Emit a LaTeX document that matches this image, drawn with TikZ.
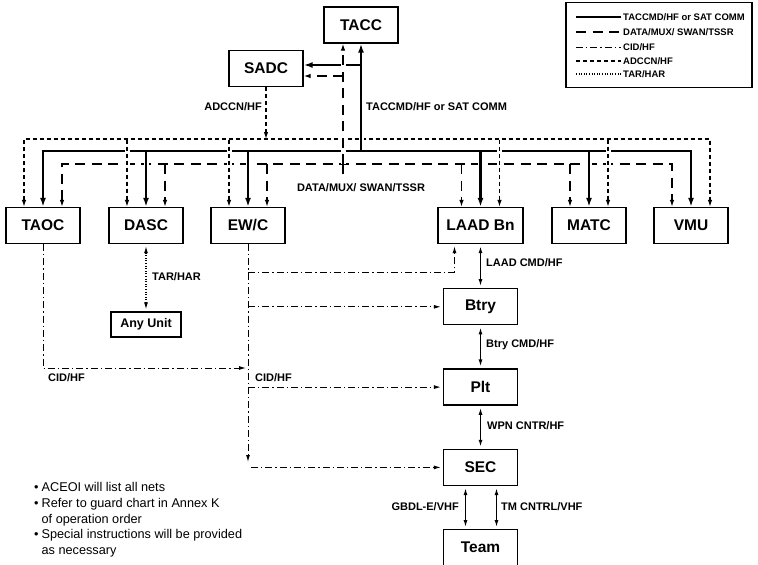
\documentclass[tikz,border=0pt]{standalone}
\usepackage{fontspec}
\setmainfont{Liberation Sans}
\usetikzlibrary{arrows.meta, positioning}

\begin{document}
\begin{tikzpicture}[x=1pt, y=-1pt,
block/.style={rectangle, draw, line width=1.3pt, minimum width=74pt,
minimum height=36pt, inner sep=2pt, font=\fontsize{15.5}{18}\selectfont\bfseries},
smallblock/.style={block, minimum width=70pt, minimum height=25pt,
font=\fontsize{12.5}{15}\selectfont\bfseries},
lbl/.style={inner sep=0pt, font=\fontsize{11}{13}\selectfont\bfseries},
lgd/.style={inner sep=2pt, font=\fontsize{9.5}{11}\selectfont\bfseries},
halo/.style={preaction={draw=white, line width=5pt, solid, -}},
cmdline/.style={line width=2.6pt, >={Latex[length=9pt,width=6pt]}},
dataline/.style={line width=1.2pt, dash pattern=on 10pt off 6.5pt, >={Latex[length=7pt,width=4.5pt]}},
adccnline/.style={line width=1.2pt, dash pattern=on 4pt off 3pt, >={Latex[length=7pt,width=4.5pt]}},
cidline/.style={line width=1pt, dash pattern=on 7pt off 3pt on 1.3pt off 3pt, >={Latex[length=7pt,width=4pt]}},
tarline/.style={line width=1.1pt, dash pattern=on 1pt off 1.6pt, >={Latex[length=7pt,width=4pt]}, shorten >=2pt, shorten <=2pt},
link/.style={line width=1.3pt, <->, >={Latex[length=7pt,width=4pt]}, shorten >=2pt, shorten <=2pt}]

\useasboundingbox (0,0) rectangle (758,565);

% command level
\node[block] (tacc) at (361,25) {TACC};
\node[block] (sadc) at (266,68.5) {SADC};
\node[block] (taoc) at (43,225.5) {TAOC};
\node[block] (dasc) at (146,225.5) {DASC};
\node[block] (ewc) at (248,225.5) {EW/C};
\node[block, minimum width=85pt] (laad) at (480.5,225.5) {LAAD Bn};
\node[block] (matc) at (589,225.5) {MATC};
\node[block] (vmu) at (691,225.5) {VMU};
\node[smallblock] (anyunit) at (146,324.5) {Any Unit};

% LAAD chain
\node[block, below=44pt of laad] (btry) {Btry};
\node[block, below=43pt of btry] (plt) {Plt};
\node[block, below=43pt of plt] (sec) {SEC};
\node[block, below=43pt of sec] (team) {Team};

\coordinate (cmdhub) at (361,151);
\coordinate (datahub) at (343,164);
\coordinate (datatail) at (343,178);
\coordinate (adccn) at (267,139);
\coordinate (adccnlow) at (267,139.7);
\coordinate (sadccmd) at ([yshift=3.5pt]sadc.east);
\coordinate (sadcdata) at ([yshift=-7.5pt]sadc.east);

% nets: bus lines
\draw[adccnline,<->] ([xshift=-19pt]taoc.north) |- (adccn) -| ([xshift=19pt]vmu.north);
\draw[dataline,<->] ([xshift=19pt]taoc.north) |- (datahub) -| ([xshift=-19pt]vmu.north);

\draw[cmdline,halo,->] (dasc.north |- cmdhub) -- (dasc.north);
\draw[cmdline,halo,->] (ewc.north |- cmdhub) -- (ewc.north);
\draw[cmdline,halo,->] (laad.north |- cmdhub) -- (laad.north);
\draw[cmdline,halo,->] (matc.north |- cmdhub) -- (matc.north);
\draw[cmdline,halo,->] (cmdhub) -- (tacc.south);
\draw[cmdline,<->] (taoc.north) |- (cmdhub) -| (vmu.north);
\draw[cmdline,->] (cmdhub |- sadccmd) -- (sadccmd);

\draw[dataline,halo,->] (datahub) -- (datahub |- tacc.south);
\draw[dataline] (datahub) -- (datatail);
\draw[dataline,->] (datahub |- sadcdata) -- (sadcdata);
\draw[dataline,->] ([xshift=19pt]dasc.north |- datahub) -- ([xshift=19pt]dasc.north);
\draw[dataline,->] ([xshift=19pt]ewc.north |- datahub) -- ([xshift=19pt]ewc.north);
\draw[dataline,->] ([xshift=-19pt]laad.north |- datahub) -- ([xshift=-19pt]laad.north);
\draw[dataline,->] ([xshift=-19pt]matc.north |- datahub) -- ([xshift=-19pt]matc.north);

\draw[adccnline,halo,->] ([xshift=-19pt]dasc.north |- adccnlow) -- ([xshift=-19pt]dasc.north);
\draw[adccnline,halo,->] ([xshift=-19pt]ewc.north |- adccnlow) -- ([xshift=-19pt]ewc.north);
\draw[adccnline,halo,->] ([xshift=19pt]laad.north |- adccnlow) -- ([xshift=19pt]laad.north);
\draw[adccnline,halo,->] ([xshift=19pt]matc.north |- adccnlow) -- ([xshift=19pt]matc.north);
\draw[adccnline,->] (sadc.south) -- (sadc.south |- adccn);

\node[lbl, anchor=east] (adccnlbl) at (262,107) {ADCCN/HF};
\node[lbl, anchor=west] (cmdlbl) at (366,107) {TACCMD/HF or SAT COMM};
\node[lbl] (datalbl) at (361,188) {DATA/MUX/ SWAN/TSSR};

% TAR/HAR
\draw[tarline,<->] (dasc.south) -- (anyunit.north);
\node[lbl, anchor=west] (tarlbl) at (152,277) {TAR/HAR};

% CID/HF
\coordinate (cidin) at (246,368);
\coordinate (cidend) at (248,462);
\coordinate (cidlaad) at (248,272);
\draw[cidline,->] (taoc.south) |- (cidin);
\draw[cidline,->] (ewc.south) -- (cidend);
\draw[cidline,->,shorten >=2pt] (cidlaad) -| ([xshift=-26pt]laad.south);
\draw[cidline,->,shorten >=2pt] (ewc.south |- btry.west) -- (btry.west);
\draw[cidline,->,shorten >=2pt] (ewc.south |- plt.west) -- (plt.west);
\draw[cidline,->,shorten >=2pt] ([xshift=3pt]ewc.south |- sec.west) -- (sec.west);
\node[lbl, anchor=west] (cidlbl) at (48,378) {CID/HF};
\node[lbl, anchor=west] (cidlbl2) at (255,378) {CID/HF};

% unit nets
\draw[link] (laad.south) -- (btry.north);
\draw[link] (btry.south) -- (plt.north);
\draw[link] (plt.south) -- (sec.north);
\draw[link] ([xshift=-15pt]sec.south) -- ([xshift=-15pt]team.north);
\draw[link] ([xshift=16pt]sec.south) -- ([xshift=16pt]team.north);
\node[lbl, anchor=west] (laadlbl) at (486,263) {LAAD CMD/HF};
\node[lbl, anchor=west] (btrylbl) at (486,345) {Btry CMD/HF};
\node[lbl, anchor=west] (wpnlbl) at (487,426) {WPN CNTR/HF};
\node[lbl, anchor=east] (gbdllbl) at (459,507) {GBDL-E/VHF};
\node[lbl, anchor=west] (tmlbl) at (501,507) {TM CNTRL/VHF};

% notes
\node[anchor=north west, align=left, inner sep=0pt,
font=\fontsize{12.7}{15.8}\selectfont] (notes) at (34,482)
{\textbullet\hspace{3pt}ACEOI will list all nets\\
\textbullet\hspace{3pt}Refer to guard chart in Annex K\\
\phantom{\textbullet\hspace{3pt}}of operation order\\
\textbullet\hspace{3pt}Special instructions will be provided\\
\phantom{\textbullet\hspace{3pt}}as necessary};

% legend
\node[draw, line width=1.3pt, minimum width=186pt, minimum height=85pt, inner sep=0pt] (legend) at (659,45) {};
\node[lgd, anchor=west] (lgcmd) at (621,17) {TACCMD/HF or SAT COMM};
\node[lgd, anchor=west] (lgdata) at (621,32) {DATA/MUX/ SWAN/TSSR};
\node[lgd, anchor=west] (lgcid) at (621,47) {CID/HF};
\node[lgd, anchor=west] (lgadccn) at (621,61) {ADCCN/HF};
\node[lgd, anchor=west] (lgtar) at (621,74) {TAR/HAR};
\draw[cmdline, line width=2pt] ([xshift=-45pt]lgcmd.west) -- (lgcmd.west);
\draw[dataline] ([xshift=-45pt]lgdata.west) -- (lgdata.west);
\draw[cidline] ([xshift=-45pt]lgcid.west) -- (lgcid.west);
\draw[adccnline] ([xshift=-45pt]lgadccn.west) -- (lgadccn.west);
\draw[tarline, shorten >=0pt, shorten <=0pt] ([xshift=-45pt]lgtar.west) -- (lgtar.west);
\end{tikzpicture}
\end{document}
